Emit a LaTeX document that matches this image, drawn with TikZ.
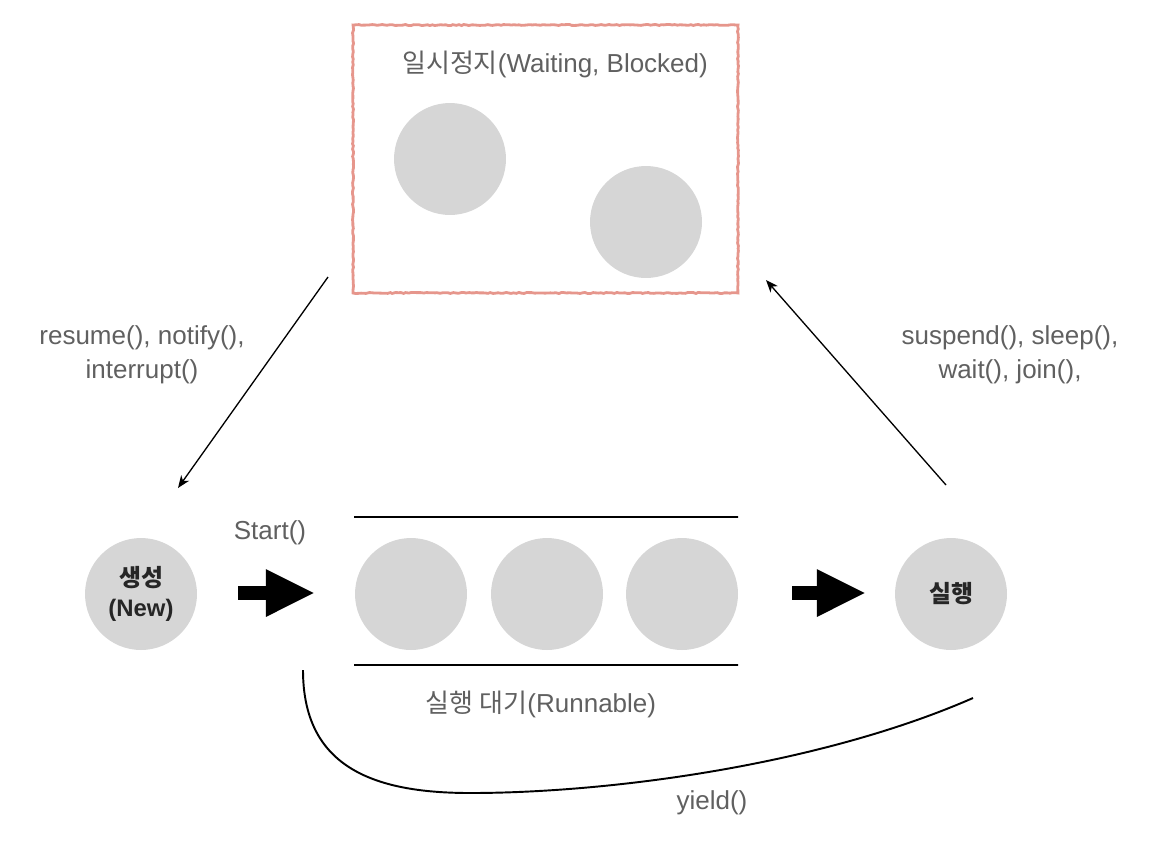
\documentclass[tikz,border=0pt]{standalone}
\usepackage{fontspec}
\setmainfont{Liberation Sans}
\newfontfamily\kr{Noto Sans CJK KR}
\usetikzlibrary{arrows,arrows.meta,decorations.pathmorphing}
\definecolor{ballgray}{RGB}{214,214,214}
\definecolor{textgray}{RGB}{96,96,96}
\definecolor{boxred}{RGB}{230,150,140}
\tikzset{
ball/.style={circle, fill=ballgray, minimum size=2.24cm, inner sep=0pt}, % grey thread circles
lbl/.style={text=textgray, font=\fontsize{14.8}{19.3}\selectfont, align=center}, % grey labels
move/.style={-{Stealth[length=7pt,width=5.5pt,inset=2pt]}, line width=0.75pt}, % state change arrows
fat/.style={-{Triangle[length=28pt,width=25pt]}, line width=8pt}, % big black arrows
}
\begin{document}
\begin{tikzpicture}[x=0.02cm, y=-0.02cm]
    \useasboundingbox (0,0) rectangle (1158,842);
    \node[draw=boxred, line width=1.6pt, decorate, decoration={random steps, segment length=1.5pt, amplitude=0.3pt}, minimum width=7.7cm, minimum height=5.36cm, inner sep=0pt] at (545.5,159) (wbox) {};
    \node[lbl] at (555,64) (wtitle) {{\kr 일시정지}(Waiting, Blocked)};
    \node[ball] at (450,159) (w1) {};
    \node[ball] at (646,222) (w2) {};
    \node[ball, font=\fontsize{13.6}{17.5}\selectfont\bfseries, text=black!85, align=center] at (141,594) (n1) {{\kr 생성}\\(New)};
    \node[ball] at (411,594) (r1) {};
    \node[ball] at (547,594) (r2) {};
    \node[ball] at (682,594) (r3) {};
    \node[ball, font=\fontsize{13.6}{17.5}\selectfont\bfseries, text=black!85] at (951,594) (x1) {\kr 실행};
    \node[lbl] at (142,355) (back) {resume(), notify(),\\interrupt()};
    \node[lbl] at (1010,355) (stop) {suspend(), sleep(),\\wait(), join(),};
    \node[lbl] at (270,533) (start) {Start()};
    \node[lbl] at (541,704) (queue) {{\kr 실행 대기}(Runnable)};
    \node[lbl] at (712,803) (yield) {yield()};
    % free ends
    \coordinate (q1) at (354,517);
    \coordinate (q2) at (738,517);
    \coordinate (q3) at (354,665);
    \coordinate (q4) at (738,665);
    \coordinate (a1) at (238,593);
    \coordinate (a2) at (315,593);
    \coordinate (a3) at (792,593);
    \coordinate (a4) at (866,593);
    \coordinate (b1) at (328,277);
    \coordinate (b2) at (178,488);
    \coordinate (c1) at (946,485);
    \coordinate (c2) at (766,280);
    \coordinate (y1) at (303,670);
    \coordinate (y2) at (470,793);
    \coordinate (y3) at (973,698);
    \draw[line width=1.1pt]
    (q1) -- (q2)
    (q3) -- (q4)
    (y1) .. controls (303,765) and (370,793) .. (y2)
         .. controls (610,793) and (820,765) .. (y3)
    ;
    \draw[fat] (a1) -- (a2);
    \draw[fat] (a3) -- (a4);
    \draw[move] (b1) -- (b2);
    \draw[move] (c1) -- (c2);
\end{tikzpicture}
\end{document}
